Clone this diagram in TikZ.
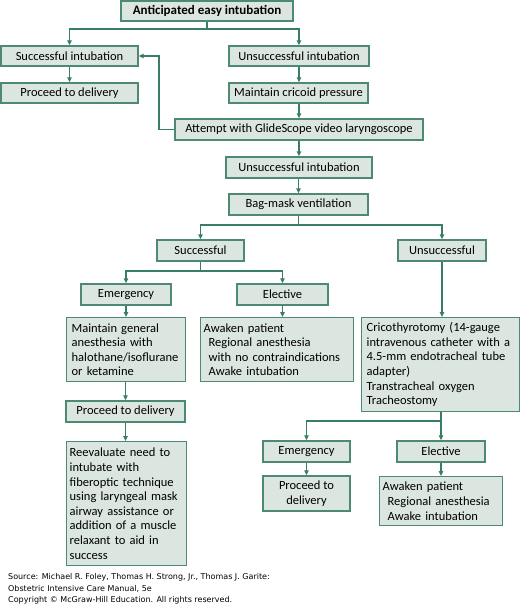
\documentclass[tikz,border=0pt]{standalone}
\usepackage{fontspec}
\setmainfont{Carlito}
\newfontfamily\srcfont{DejaVu Sans}
\usetikzlibrary{arrows.meta}
\definecolor{boxfill}{HTML}{DCE6E0}
\definecolor{boxline}{HTML}{4E8A72}
\definecolor{conn}{HTML}{3A7D66}
\tikzset{
  fbox/.style={draw=boxline, fill=boxfill, line width=1.3pt, inner sep=0pt, font=\fontsize{12.5}{14.6}\selectfont},
  sbox/.style={fbox, align=center},
  mbox/.style={fbox, anchor=north west, align=left, inner xsep=5pt, inner ysep=3pt},
  line/.style={draw=conn, line width=1.2pt},
  arr/.style={line, -{Triangle[length=5pt,width=4.5pt]}},
}
\begin{document}
\begin{tikzpicture}[x=1pt,y=-1pt]
\useasboundingbox (0,0) rectangle (520,606);
% single-line boxes
\node[sbox, minimum width=172pt, minimum height=20pt, font=\fontsize{13}{14.6}\selectfont\bfseries] (top) at (207,11) {Anticipated easy intubation};
\node[sbox, minimum width=137pt, minimum height=20pt] (si) at (69.5,56) {Successful intubation};
\node[sbox, minimum width=137pt, minimum height=20pt] (pd1) at (69.5,93) {Proceed to delivery};
\node[sbox, minimum width=140pt, minimum height=20pt] (ui1) at (299,56) {Unsuccessful intubation};
\node[sbox, minimum width=139pt, minimum height=20pt] (mcp) at (298.5,93) {Maintain cricoid pressure};
\node[sbox, minimum width=248pt, minimum height=21pt] (glide) at (299,129.5) {Attempt with GlideScope video laryngoscope};
\node[sbox, minimum width=146pt, minimum height=21pt] (ui2) at (299,167.5) {Unsuccessful intubation};
\node[sbox, minimum width=139pt, minimum height=21pt] (bag) at (298.5,204.5) {Bag-mask ventilation};
\node[sbox, minimum width=87pt, minimum height=21pt] (succ) at (200.5,250.5) {Successful};
\node[sbox, minimum width=88pt, minimum height=21pt] (unsucc) at (442,250.5) {Unsuccessful};
\node[sbox, minimum width=90pt, minimum height=21pt] (emer) at (126,294.5) {Emergency};
\node[sbox, minimum width=91pt, minimum height=21pt] (elec) at (282.5,294.5) {Elective};
\node[sbox, minimum width=119pt, minimum height=21pt] (pd2) at (125.5,411.5) {Proceed to delivery};
\node[sbox, minimum width=87pt, minimum height=21pt] (emer2) at (306.5,451.5) {Emergency};
\node[sbox, minimum width=88pt, minimum height=21pt] (elec2) at (441,451.5) {Elective};
\node[sbox, minimum width=87pt, minimum height=35pt] (pd3) at (306.5,493.5) {Proceed to\\delivery};
% multi-line boxes
\node[mbox, text width=109pt, minimum height=64pt] (mga) at (66,317) {Maintain general\\anesthesia with\\halothane/isoflurane\\or ketamine};
\node[mbox, text width=147pt, minimum height=64pt, inner xsep=3pt] (awk1) at (200,317) {Awaken patient\\\hspace*{5pt}Regional anesthesia\\\hspace*{5pt}with no contraindications\\\hspace*{5pt}Awake intubation};
\node[mbox, text width=148pt, minimum height=94pt] (crico) at (361,317) {Cricothyrotomy (14-gauge\\intravenous catheter with a\\4.5-mm endotracheal tube\\adapter)\\Transtracheal oxygen\\Tracheostomy};
\node[mbox, text width=114pt, minimum height=124pt, inner xsep=3pt] (reev) at (66,441) {Reevaluate need to\\intubate with\\fiberoptic technique\\using laryngeal mask\\airway assistance or\\addition of a muscle\\relaxant to aid in\\success};
\node[mbox, text width=117pt, minimum height=49pt, inner xsep=3pt] (awk2) at (379,476) {Awaken patient\\\hspace*{5pt}Regional anesthesia\\\hspace*{5pt}Awake intubation};
% source
\node[anchor=north west, align=left, inner sep=0pt, font=\srcfont\fontsize{8}{11.6}\selectfont] (src) at (8,573.5) {Source: Michael R. Foley, Thomas H. Strong, Jr., Thomas J. Garite:\\Obstetric Intensive Care Manual, 5e\\Copyright © McGraw-Hill Education. All rights reserved.};
% connectors
\coordinate (j1) at (207,29);
\draw[line] (top.south) -- (j1);
\draw[arr] (j1) -| (si.north);
\draw[arr] (j1) -| (ui1.north);
\draw[arr] (si.south) -- (pd1.north);
\draw[arr] (ui1.south) -- (mcp.north -| ui1.south);
\draw[arr] (mcp.south -| glide.north) -- (glide.north);
\coordinate (g1) at (159,129.5);
\draw[arr] (glide.west) -- (g1) |- (si.east);
\draw[arr] (glide.south) -- (ui2.north);
\draw[arr] (ui2.south -| bag.north) -- (bag.north);
\coordinate (j2) at (298.5,225);
\draw[line] (bag.south) -- (j2);
\draw[arr] (j2) -| (succ.north);
\draw[arr] (j2) -| (unsucc.north);
\coordinate (j3) at (200.5,271);
\draw[line] (succ.south) -- (j3);
\draw[arr] (j3) -| (emer.north);
\draw[arr] (j3) -| (elec.north);
\draw[arr] (emer.south) -- (emer.south |- mga.north);
\draw[arr] (elec.south) -- (elec.south |- awk1.north);
\draw[arr] (unsucc.south) -- (unsucc.south |- crico.north);
\draw[arr] (pd2.north |- mga.south) -- (pd2.north);
\draw[arr] (pd2.south) -- (pd2.south |- reev.north);
\coordinate (j4) at (441,421);
\draw[line] (crico.south -| j4) -- (j4);
\draw[arr] (j4) -| (emer2.north);
\draw[arr] (j4) -- (elec2.north);
\draw[arr] (emer2.south) -- (pd3.north);
\draw[arr] (elec2.south) -- (elec2.south |- awk2.north);
\end{tikzpicture}
\end{document}
